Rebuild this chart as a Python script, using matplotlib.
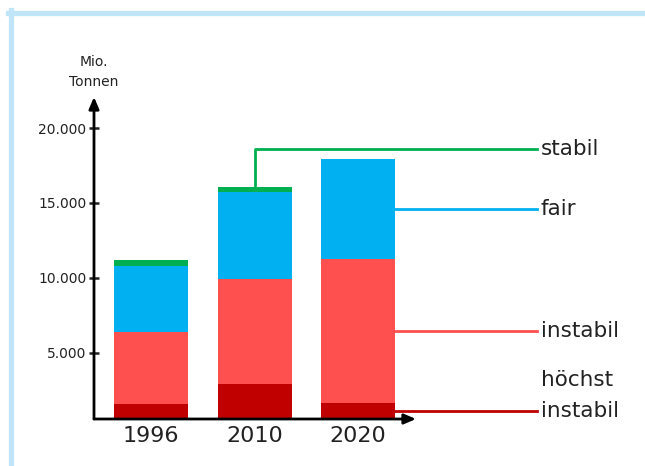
import numpy as np
import matplotlib
matplotlib.use("Agg")
import matplotlib.pyplot as plt
from matplotlib.lines import Line2D

years = ["1996", "2010", "2020"]
# Mio. Tonnen, stacked from bottom to top
hoechst_instabil = [1600, 2930, 1670]
instabil = [4800, 7000, 9580]
fair = [4380, 5770, 6650]
stabil = [400, 390, 0]

segments = [
    ("höchst instabil", hoechst_instabil, "#C00000"),
    ("instabil", instabil, "#FF5050"),
    ("fair", fair, "#00B0F0"),
    ("stabil", stabil, "#00B050"),
]
yticks = [5000, 10000, 15000, 20000]
ytick_labels = ["5.000", "10.000", "15.000", "20.000"]

W, H = 645, 466
fig = plt.figure(figsize=(W / 100, H / 100), dpi=100)
fig.patch.set_facecolor("white")

# axes placed in pixel terms
left, right, top, bottom = 94, 416, 97, 419
ax = fig.add_axes([left / W, 1 - bottom / H, (right - left) / W, (bottom - top) / H])

x = np.arange(len(years))
width = 0.715
ymin = 580
base = np.zeros(len(years))
mids = {}
for name, vals, color in segments:
    vals = np.array(vals, dtype=float)
    ax.bar(x, vals, width, bottom=base, color=color, linewidth=0)
    mids[name] = (np.maximum(base, ymin) + base + vals) / 2
    base = base + vals

ax.set_xlim(-0.551, 2.56)
ax.set_ylim(ymin, 22070)

for s in ax.spines.values():
    s.set_visible(False)

arrow = dict(arrowstyle="-|>,head_length=0.7,head_width=0.3", lw=2, color="black",
             shrinkA=0, shrinkB=0)
ax.annotate("", xy=(0, 1), xytext=(0, 0), xycoords="axes fraction", arrowprops=arrow)
ax.annotate("", xy=(1, 0), xytext=(0, 0), xycoords="axes fraction", arrowprops=arrow)

ax.set_yticks(yticks)
ax.set_yticklabels(ytick_labels, fontsize=10)
ax.tick_params(axis="y", direction="inout", length=7, width=1.8, pad=2, colors="#222222")
ax.set_xticks(x)
ax.set_xticklabels(years, fontsize=16, color="#222222")
ax.tick_params(axis="x", length=0, pad=5)

ax.text(0, 1.078, "Mio.\nTonnen", transform=ax.transAxes, ha="center", va="center",
        fontsize=10, linespacing=1.5, color="#222222")

# callout lines on the right
line_end = 3.727
text_x = 3.765
i_last = len(years) - 1
bar_edge = x[i_last] + width / 2
for name, vals, color in segments[:3]:
    y = mids[name][i_last]
    ax.plot([bar_edge, line_end], [y, y], color=color, lw=2, clip_on=False)
    label = "instabil" if name == "höchst instabil" else name
    ax.text(text_x, y, label, fontsize=15.5, va="center", ha="left", color="#222222")
    if name == "höchst instabil":
        ax.annotate("höchst", xy=(text_x, y), xytext=(0, 22), textcoords="offset points",
                    fontsize=15.5, va="center", ha="left", color="#222222",
                    annotation_clip=False)

# stabil callout from the 2010 bar top
i_st = 1
top_st = base[i_st]
y_st = 18580
ax.plot([x[i_st], x[i_st], line_end], [top_st, y_st, y_st], color="#00B050", lw=2,
        clip_on=False)
ax.text(text_x, y_st, "stabil", fontsize=15.5, va="center", ha="left", color="#222222")

# light blue frame
frame = "#C0E4F8"
fig.add_artist(Line2D([8 / W, 1], [1 - 12.5 / H] * 2, color=frame, lw=3.8))
fig.add_artist(Line2D([10.5 / W] * 2, [0, 1 - 10 / H], color=frame, lw=3.8))

fig.savefig("out.png", dpi=100)
